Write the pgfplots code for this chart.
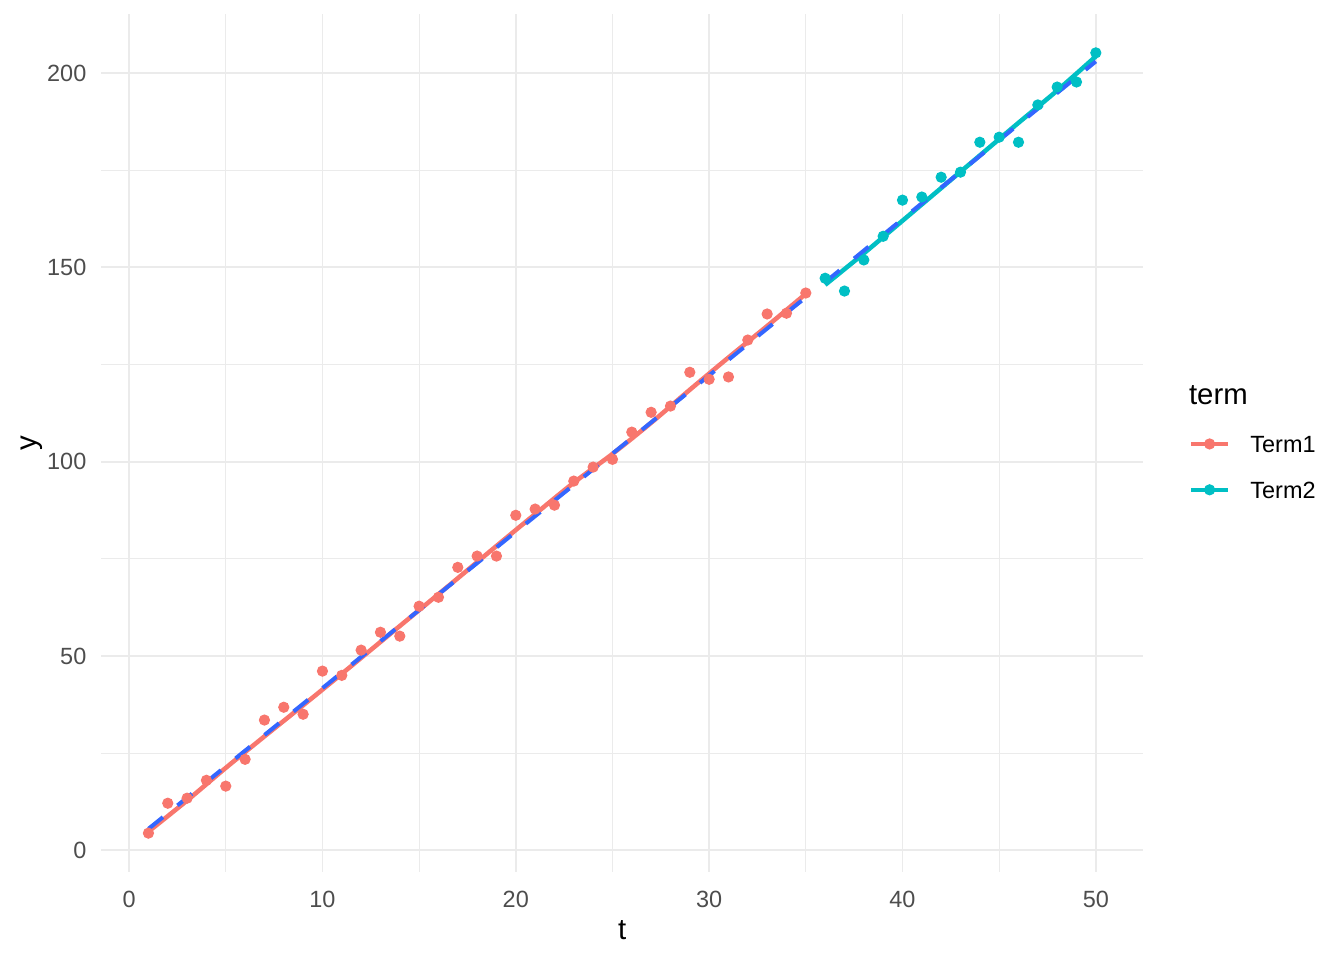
\documentclass[border=0pt]{standalone}
\usepackage{fontspec}
\setmainfont{Liberation Sans}
\usepackage{pgfplots}
\pgfplotsset{compat=1.18}
\definecolor{tone}{HTML}{F8766D}
\definecolor{ttwo}{HTML}{00BFC4}
\definecolor{fitblue}{HTML}{3366FF}
\definecolor{grid92}{HTML}{EBEBEB}
\definecolor{grey30}{HTML}{4D4D4D}
\begin{document}
\begin{tikzpicture}
\path[use as bounding box] (0,0) rectangle (504pt,360pt);
\begin{axis}[
  at={(37.9pt,33pt)}, anchor=south west,
  scale only axis, width=390.8pt, height=321.75pt,
  xmin=-1.45, xmax=52.45, ymin=-5.6, ymax=215.2,
  axis line style={draw=none}, tick style={draw=none},
  xtick={0,10,...,50}, ytick={0,50,...,200},
  minor xtick={5,15,...,45}, minor ytick={25,75,125,175},
  grid=both,
  major grid style={color=grid92, line width=0.65pt},
  minor grid style={color=grid92, line width=0.35pt},
  /pgf/number format/assume math mode=true,
  tick label style={font=\fontsize{8.8}{10}\selectfont, text=grey30},
  xticklabel style={yshift=-3.5pt},
  yticklabel style={xshift=-2pt},
  xlabel={t}, ylabel={y},
  label style={font=\fontsize{11}{13}\selectfont},
  xlabel style={at={(rel axis cs:0.5,-0.0676)}, anchor=center},
  ylabel style={at={(rel axis cs:-0.0662,0.5)}, anchor=center},
  clip=false,
  legend style={at={(rel axis cs:1.0435,0.469)}, anchor=west, draw=none, fill=none,
    inner sep=0pt, font=\fontsize{8.8}{10}\selectfont, row sep=9.6pt,
    nodes={inner sep=0pt},
    /tikz/every odd column/.style={column sep=7.6pt}},
  legend cell align=left,
]
% observed points
\addplot[only marks, mark=*, mark size=1.9pt, color=tone, forget plot] coordinates {
(1,4.4) (2,12.1) (3,13.4) (4,18.0) (5,16.5) (6,23.4) (7,33.5) (8,36.8) (9,35.0) (10,46.1)
(11,45.0) (12,51.5) (13,56.1) (14,55.1) (15,62.8) (16,65.1) (17,72.8) (18,75.7) (19,75.7) (20,86.2)
(21,87.8) (22,88.8) (23,95.0) (24,98.6) (25,100.6) (26,107.6) (27,112.7) (28,114.3) (29,123.0) (30,121.2)
(31,121.8) (32,131.3) (33,138.0) (34,138.2) (35,143.4)
};
\addplot[only marks, mark=*, mark size=1.9pt, color=ttwo, forget plot] coordinates {
(36,147.2) (37,143.9) (38,151.9) (39,158.0) (40,167.3) (41,168.1) (42,173.2) (43,174.5)
(44,182.2) (45,183.5) (46,182.2) (47,191.8) (48,196.4) (49,197.7) (50,205.2)
};
% smoothed lines
\addplot[color=tone, line width=1.7pt, forget plot, smooth] coordinates {
(1,4.8) (3,12.8) (5,21.2) (7,29.3) (9,37.3) (11,45.4) (13,53.6) (15,61.8) (17,70.0)
(19,78.3) (21,86.5) (23,94.6) (25,102.0) (27,110.0) (29,118.5) (31,126.8) (33,134.9) (35,143.2)
};
\addplot[color=ttwo, line width=1.7pt, forget plot, smooth] coordinates {
(36,145.5) (38,153.6) (40,162.0) (42,170.4) (44,178.8) (46,187.2) (48,195.5) (50,204.3)
};
% linear fits
\addplot[color=fitblue, line width=1.5pt, dash pattern=on 7pt off 7pt, forget plot] coordinates {(1,5.5) (35,142.3)};
\addplot[color=fitblue, line width=1.5pt, dash pattern=on 7pt off 7pt, forget plot] coordinates {(36,146.2) (50,203.0)};
\addlegendimage{legend image code/.code={
  \draw[tone, line width=1.7pt] (0pt,1pt) -- (13.7pt,1pt);
  \fill[tone] (6.85pt,1pt) circle (1.9pt);}}
\addlegendentry{Term1}
\addlegendimage{legend image code/.code={
  \draw[ttwo, line width=1.7pt] (0pt,1pt) -- (13.7pt,1pt);
  \fill[ttwo] (6.85pt,1pt) circle (1.9pt);}}
\addlegendentry{Term2}
\node[anchor=west, font=\fontsize{11}{13}\selectfont, inner sep=0pt] at (rel axis cs:1.0435,0.556) {term};
\end{axis}
\end{tikzpicture}
\end{document}
